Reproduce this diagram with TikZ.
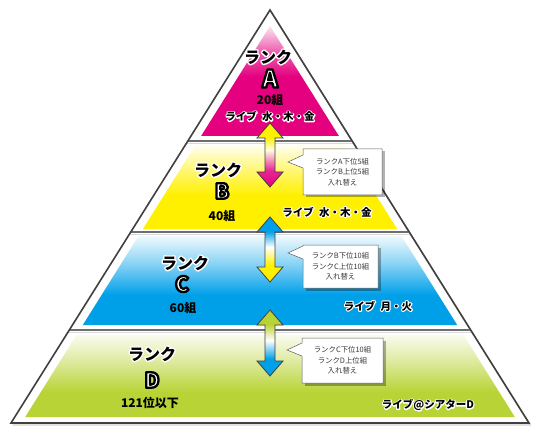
\documentclass[tikz,border=0pt]{standalone}
\usepackage{fontspec}
\newfontfamily\jp{Noto Sans CJK JP}
\usetikzlibrary{calc}
\definecolor{mag}{HTML}{E4007F}
\definecolor{yel}{HTML}{FFF000}
\definecolor{cya}{HTML}{00A0E9}
\definecolor{grn}{HTML}{B8D335}
\definecolor{edge}{HTML}{404040}
\definecolor{sep}{HTML}{6E6E6E}
\definecolor{calltxt}{HTML}{3A3A3A}
\pgfdeclareverticalshading{shA}{100bp}{color(0bp)=(mag); color(25bp)=(mag); color(52bp)=(mag); color(64bp)=(mag!60); color(75bp)=(mag!10); color(100bp)=(mag!10)}
\pgfdeclareverticalshading{shB}{100bp}{color(0bp)=(yel); color(25bp)=(yel); color(45bp)=(yel); color(60bp)=(yel!55); color(75bp)=(yel!6); color(100bp)=(yel!6)}
\pgfdeclareverticalshading{shC}{100bp}{color(0bp)=(cya); color(25bp)=(cya); color(42bp)=(cya); color(60bp)=(cya!45); color(75bp)=(cya!6); color(100bp)=(cya!6)}
\pgfdeclareverticalshading{shD}{100bp}{color(0bp)=(grn); color(25bp)=(grn); color(40bp)=(grn); color(60bp)=(grn!45); color(75bp)=(grn!8); color(100bp)=(grn!8)}
\pgfdeclareverticalshading{arrAB}{100bp}{color(0bp)=(mag); color(25bp)=(mag); color(38bp)=(mag!85); color(54bp)=(yel!12); color(64bp)=(yel); color(75bp)=(yel); color(100bp)=(yel)}
\pgfdeclareverticalshading{arrBC}{100bp}{color(0bp)=(yel); color(25bp)=(yel); color(38bp)=(yel); color(52bp)=(white); color(64bp)=(cya); color(75bp)=(cya); color(100bp)=(cya)}
\pgfdeclareverticalshading{arrCD}{100bp}{color(0bp)=(cya); color(25bp)=(cya); color(38bp)=(cya); color(52bp)=(white); color(64bp)=(grn); color(75bp)=(grn); color(100bp)=(grn)}
% text render modes (outlined text)
\newcommand\halotext[2]{\special{pdf:literal direct 1 Tr #1 w 1 j}#2\special{pdf:literal direct 0 Tr}}
\newcommand\outlinedletter[1]{\special{pdf:literal direct 2 Tr 2.3 w 1 j 0 0 0 RG}#1\special{pdf:literal direct 0 Tr}}
\tikzset{
  outline/.style={draw=edge, line width=1.6pt, line join=miter},
  sepline/.style={draw=sep, line width=1.5pt},
  seplight/.style={draw=gray!30, line width=1.2pt},
  arrowline/.style={draw=edge, line width=0.8pt, line join=miter},
  callbox/.style={fill=white, draw=gray!75!black, line width=0.5pt},
  callshadow/.style={fill=black, opacity=0.3},
  rank/.style={font=\jp\bfseries\fontsize{16}{16}\selectfont, inner sep=0pt},
  bigletter/.style={font=\jp\bfseries\fontsize{21}{21}\selectfont, inner sep=0pt, text=white},
  count/.style={font=\jp\bfseries\fontsize{12}{12}\selectfont, inner sep=0pt},
  live/.style={font=\jp\bfseries\fontsize{10.5}{10.5}\selectfont, inner sep=0pt},
  halo/.style={text=white},
  calltext/.style={font=\jp\fontsize{7.4}{10.5}\selectfont, text=calltxt, align=center, inner sep=0pt},
}
\newcommand\dblarr[3]{%
  \path[shade, shading=#3, arrowline] (#1) -- ($(#1)+(13,15)$) -- ($(#1)+(5,15)$) -- ($(#2)+(5,-15)$) -- ($(#2)+(13,-15)$) -- (#2) -- ($(#2)+(-13,-15)$) -- ($(#2)+(-5,-15)$) -- ($(#1)+(-5,15)$) -- ($(#1)+(-13,15)$) -- cycle;}
\newcommand\callout[5]{% #1 left,#2 top,#3 right,#4 bottom,#5 tip y
  \pgfmathsetmacro\ptop{#5-7}\pgfmathsetmacro\pbot{#5+6}
  \fill[callshadow] ($(#1,#2)+(2.5,2.5)$) -- ($(#3,#2)+(2.5,2.5)$) -- ($(#3,#4)+(2.5,2.5)$) -- ($(#1,#4)+(2.5,2.5)$) -- cycle;
  \path[callbox] (#1,#2) -- (#3,#2) -- (#3,#4) -- (#1,#4) -- (#1,\pbot) -- (#1-15,#5) -- (#1,\ptop) -- cycle;}
\begin{document}
\begin{tikzpicture}[x=1pt,y=-1pt]
\useasboundingbox (0,0) rectangle (540,438);
\fill[white] (0,0) rectangle (540,438);
% bands
\shade[shading=shA] (270,26) -- (338.9,136) -- (201.1,136) -- cycle;
\shade[shading=shB] (195.5,145) -- (344.5,145) -- (397.1,229) -- (142.9,229) -- cycle;
\shade[shading=shC] (138.5,236) -- (401.5,236) -- (457.2,325) -- (82.8,325) -- cycle;
\shade[shading=shD] (76.5,335) -- (463.5,335) -- (514.8,417) -- (25.2,417) -- cycle;
% separators
\draw[seplight] (187,143.5) -- (353,143.5);
\draw[seplight] (130,234.5) -- (410,234.5);
\draw[seplight] (68,332.5) -- (472,332.5);
\draw[sepline] (188,141) -- (352,141);
\draw[sepline] (131,232) -- (409,232);
\draw[sepline] (69.7,330) -- (470.3,330);
% outer triangle
\draw[gray!35, line width=1.4pt] (271.5,12) -- (530,425) -- (12.5,425);
\draw[outline] (270,10) -- (529,423) -- (11,423) -- cycle;
% arrows
\coordinate (abT) at (270,123); \coordinate (abB) at (270,187);
\coordinate (bcT) at (270,217); \coordinate (bcB) at (270,282);
\coordinate (cdT) at (270,310); \coordinate (cdB) at (270,376);
\dblarr{abT}{abB}{arrAB}
\dblarr{bcT}{bcB}{arrBC}
\dblarr{cdT}{cdB}{arrCD}
% callouts
\callout{303}{149}{382}{195}{162}
\callout{303}{245}{378}{288}{253}
\callout{302}{338}{383}{383}{350}
\node[calltext] (c1) at (342.5,172) {ランクA下位5組\\ランクB上位5組\\入れ替え};
\node[calltext] (c2) at (340.5,266.5) {ランクB下位10組\\ランクC上位10組\\入れ替え};
\node[calltext] (c3) at (342.5,360.5) {ランクC下位10組\\ランクD上位組\\入れ替え};
% rank A
\node[rank, halo] (rAh) at (268,57) {\halotext{2.8}{ランク}};
\node[rank] (rA) at (268,57) {ランク};
\node[bigletter, font=\jp\bfseries\fontsize{24}{24}\selectfont] (lA) at (270,78.5) {\outlinedletter{A}};
\node[count] (nA) at (270,100) {20組};
\node[live, halo] (vAh) at (270,116.5) {\halotext{2.2}{ライブ\hspace{0.5em}水・木・金}};
\node[live] (vA) at (270,116.5) {ライブ\hspace{0.5em}水・木・金};
% rank B
\node[rank, halo] (rBh) at (218,170) {\halotext{2.8}{ランク}};
\node[rank] (rB) at (218,170) {ランク};
\node[bigletter] (lB) at (222,191) {\outlinedletter{B}};
\node[count] (nB) at (222,216) {40組};
\node[live, halo] (vBh) at (327,212) {\halotext{2.2}{ライブ\hspace{0.5em}水・木・金}};
\node[live] (vB) at (327,212) {ライブ\hspace{0.5em}水・木・金};
% rank C
\node[rank, halo] (rCh) at (185,263) {\halotext{2.8}{ランク}};
\node[rank] (rC) at (185,263) {ランク};
\node[bigletter] (lC) at (182,284) {\outlinedletter{C}};
\node[count] (nC) at (183,308) {60組};
\node[live, halo] (vCh) at (378,306) {\halotext{2.2}{ライブ\hspace{0.5em}月・火}};
\node[live] (vC) at (378,306) {ライブ\hspace{0.5em}月・火};
% rank D
\node[rank, halo] (rDh) at (152,354) {\halotext{2.8}{ランク}};
\node[rank] (rD) at (152,354) {ランク};
\node[bigletter] (lD) at (152,380) {\outlinedletter{D}};
\node[count] (nD) at (150,403) {121位以下};
\node[live, halo] (vDh) at (428,405) {\halotext{2.2}{ライブ@シアターD}};
\node[live] (vD) at (428,405) {ライブ@シアターD};
\end{tikzpicture}
\end{document}
